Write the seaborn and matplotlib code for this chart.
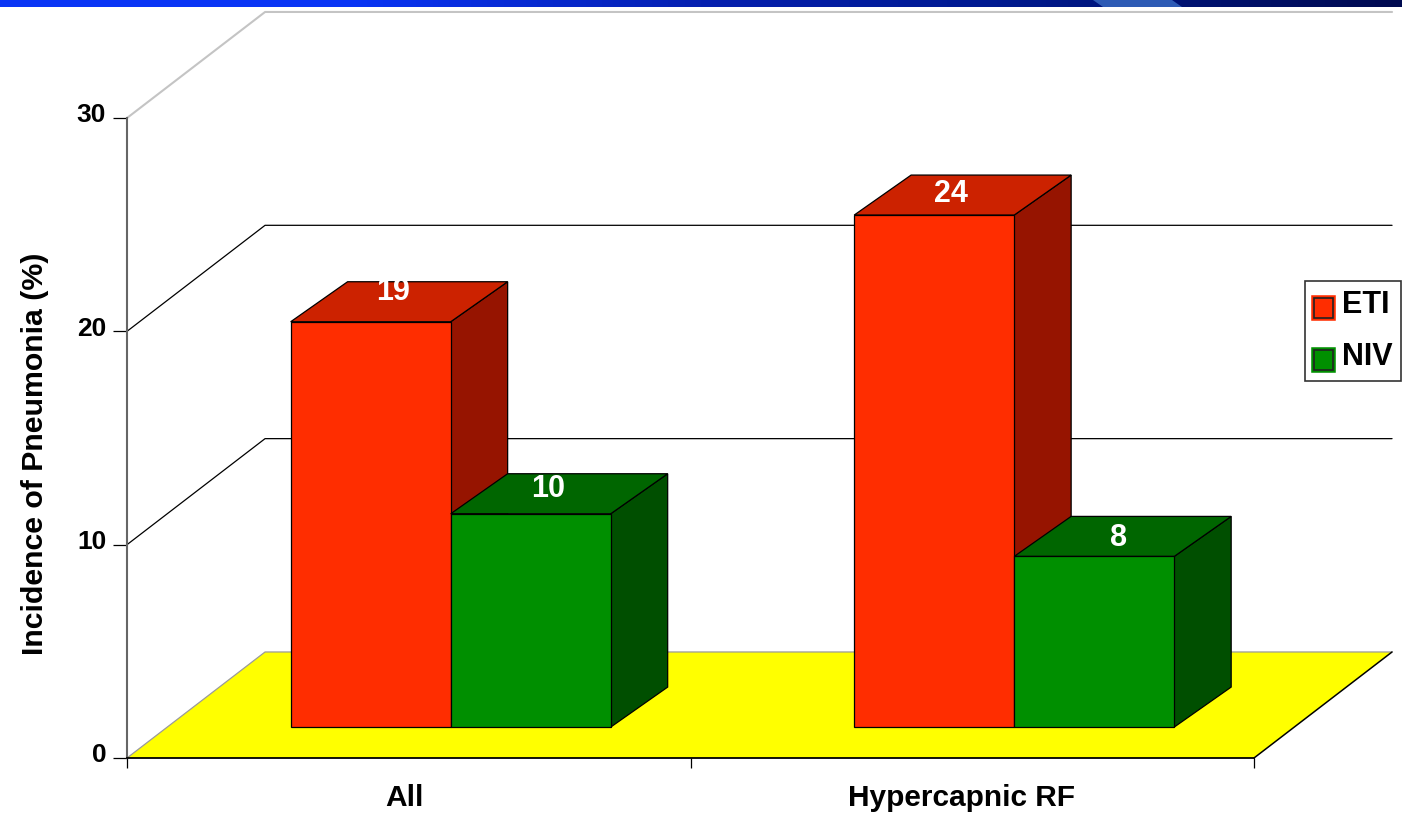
import numpy as np
import pandas as pd
import matplotlib
matplotlib.use("Agg")
import matplotlib.pyplot as plt
import matplotlib.patheffects as pe
from matplotlib.colors import LinearSegmentedColormap
from matplotlib.patches import Polygon
from matplotlib.transforms import ScaledTranslation
import seaborn as sns

# Chart values
categories = ["All", "Hypercapnic RF"]
eti_values = [19, 24]
niv_values = [10, 8]
y_ticks = [0, 10, 20, 30]
series_names = ["ETI", "NIV"]

df = pd.DataFrame({
    "Group": categories * 2,
    "Series": [series_names[0]] * 2 + [series_names[1]] * 2,
    "Value": eti_values + niv_values,
})

# 3D look, in data units (one category = 563.5 px, one y unit = 21.33 px)
FLOOR_DX, FLOOR_DY = 0.245, 4.97
FRONT_DX, FRONT_DY = 0.0745, 1.45
BAR_DX, BAR_DY = 0.101, 1.875

front_colors = {"ETI": "#FF2D00", "NIV": "#008F00"}
top_colors = {"ETI": "#CC2200", "NIV": "#006600"}
side_colors = {"ETI": "#961400", "NIV": "#004F00"}

# label nudges from the top face centre (ETI All, ETI Hyp, NIV All, NIV Hyp)
label_dx = [0.039, 0.030, 0.030, 0.044]
label_dy = [1.4, 0.98, 1.17, 0.85]
# x tick labels sit left of the category centres in the original (px)
xlabel_nudge = [-4, -11]

sns.set_theme(style="white")
plt.rcParams["font.family"] = ["Liberation Sans", "DejaVu Sans"]
plt.rcParams["font.weight"] = "bold"
plt.rcParams["text.color"] = "black"
plt.rcParams["xtick.labelcolor"] = "black"
plt.rcParams["ytick.labelcolor"] = "black"

W, H = 1402, 824
fig = plt.figure(figsize=(W / 100, H / 100), dpi=100, facecolor="white")
ax = fig.add_axes([127 / W, 1 - 758 / H, (1254 - 127) / W, (758 - 118) / H])
ax.set_facecolor("none")

sns.barplot(data=df, x="Group", y="Value", hue="Series", hue_order=series_names,
            palette=front_colors, width=0.568, gap=0, saturation=1, errorbar=None,
            edgecolor="black", linewidth=0.9, ax=ax, zorder=5)
bars = [p for p in ax.patches if p.get_height() > 0]
ax.set_xlim(-0.5, 1.5)
ax.set_ylim(0, 30)

# Floor and walls
x0, x1 = ax.get_xlim()
ax.add_patch(Polygon([(x0, 0), (x1, 0), (x1 + FLOOR_DX, FLOOR_DY), (x0 + FLOOR_DX, FLOOR_DY)],
                     closed=True, facecolor="#FFFF00", edgecolor="none", clip_on=False, zorder=1))
for v in y_ticks:
    color = {0: "#9A9A9A", 30: "#C4C4C4"}.get(v, "black")
    lw = 1.5 if v == 30 else 0.9
    ax.plot([x0, x0 + FLOOR_DX, x1 + FLOOR_DX], [v, v + FLOOR_DY, v + FLOOR_DY],
            color=color, lw=lw, clip_on=False, zorder=2)
ax.plot([x1, x1 + FLOOR_DX], [0, FLOOR_DY], color="black", lw=1.1, clip_on=False, zorder=2)

# Bars: shift to the front plane, then add top and side faces
for i, bar in enumerate(bars):
    bar.set_x(bar.get_x() + FRONT_DX)
    bar.set_y(FRONT_DY)
    name = series_names[i // 2]
    left, right = bar.get_x(), bar.get_x() + bar.get_width()
    low, top = bar.get_y(), bar.get_y() + bar.get_height()
    z = 5 + i // 2
    bar.set_zorder(z + 0.2)
    bar.set_clip_on(False)
    ax.add_patch(Polygon([(right, low), (right + BAR_DX, low + BAR_DY),
                          (right + BAR_DX, top + BAR_DY), (right, top)],
                         closed=True, facecolor=side_colors[name], edgecolor="black",
                         linewidth=0.9, clip_on=False, zorder=z))
    ax.add_patch(Polygon([(left, top), (right, top), (right + BAR_DX, top + BAR_DY),
                          (left + BAR_DX, top + BAR_DY)],
                         closed=True, facecolor=top_colors[name], edgecolor="black",
                         linewidth=0.9, clip_on=False, zorder=z + 0.1))
    ax.text((left + right) / 2 + label_dx[i], top + label_dy[i], str(int(bar.get_height())),
            color="white", ha="center", va="center", fontsize=22, fontweight="bold",
            zorder=10)

# Axes
sns.despine(ax=ax, top=True, right=True)
ax.spines["left"].set_color("#666666")
ax.spines["left"].set_linewidth(1.5)
ax.spines["bottom"].set_color("black")
ax.spines["bottom"].set_linewidth(1.3)
ax.spines["bottom"].set_zorder(3)
ax.spines["left"].set_zorder(3)
ax.set_yticks(y_ticks)
ax.set_xticks([-0.5, 0.5, 1.5], minor=True)
ax.tick_params(axis="x", which="major", length=0, pad=19, labelsize=21.5)
ax.tick_params(axis="x", which="minor", bottom=True, length=7.5, width=0.9, color="black")
ax.tick_params(axis="y", left=True, length=10, width=0.9, color="black", pad=5, labelsize=19)
for label in ax.get_yticklabels():
    label.set_transform(label.get_transform() + ScaledTranslation(0, 5 / 100, fig.dpi_scale_trans))
for label, nudge in zip(ax.get_xticklabels(), xlabel_nudge):
    label.set_transform(label.get_transform() + ScaledTranslation(nudge / 100, 0, fig.dpi_scale_trans))
ax.set_xlabel("")
ax.set_ylabel("")
fig.text(35 / W, 1 - 454 / H, "Incidence of Pneumonia (%)", rotation=90, ha="center", va="center",
         fontsize=21.8, fontweight="bold", color="black")

# Legend
handles, labels = ax.get_legend_handles_labels()
leg = ax.legend(handles, labels, loc="upper left", bbox_to_anchor=(1305 / W, 1 - 281 / H),
                bbox_transform=fig.transFigure, frameon=True, fancybox=False, framealpha=1,
                edgecolor="#333333", fontsize=22, handlelength=0.62, handleheight=0.62,
                borderpad=0.28, labelspacing=0.74, handletextpad=0.3, borderaxespad=0)
leg.get_frame().set_linewidth(1.2)
leg.set_zorder(20)
for patch in leg.get_patches():
    fc = patch.get_facecolor()
    patch.set_y(patch.get_y() - 4.3)
    patch.set_edgecolor("#222222")
    patch.set_linewidth(1.2)
    patch.set_path_effects([pe.withStroke(linewidth=4, foreground=fc)])

# Slide banner along the top edge
banner = fig.add_axes([0, 1 - 7 / H, 1, 7 / H], zorder=30)
cmap = LinearSegmentedColormap.from_list(
    "banner", [(0, "#0A35F5"), (0.25, "#0A35F5"), (0.5, "#0620B0"), (0.71, "#001A90"), (1, "#000A50")])
banner.imshow(np.linspace(0, 1, 256)[None, :], aspect="auto", cmap=cmap, extent=(0, W, 7, 0))
banner.add_patch(Polygon([(1093, 0), (1172, 0), (1182, 7), (1103, 7)], closed=True,
                         facecolor="#2E5BB5", edgecolor="none"))
banner.set_xlim(0, W)
banner.set_ylim(7, 0)
banner.axis("off")

fig.savefig("out.png", dpi=100, facecolor="white")
